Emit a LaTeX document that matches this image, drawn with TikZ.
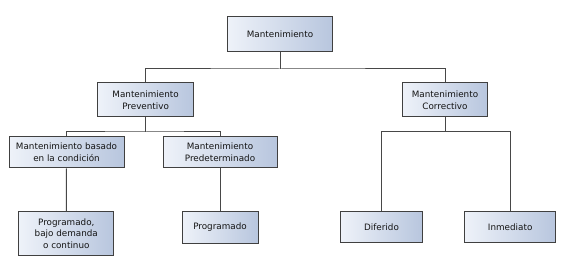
\documentclass[tikz,border=0pt]{standalone}
\usepackage{fontspec}
\setmainfont{DejaVu Sans}
\begin{document}
\begin{tikzpicture}[x=1pt,y=-1pt,
  box/.style={draw=black!75, line width=1pt, left color=boxl, right color=boxr,
    inner sep=0pt, align=center, font=\fontsize{8.8}{11.6}\selectfont, text=black!92},
  conn/.style={draw=black!72, line width=1pt}]
\definecolor{boxl}{RGB}{238,242,249}
\definecolor{boxr}{RGB}{184,198,222}
\useasboundingbox (0,0) rectangle (568,267);
\node[box, minimum width=104.5pt, minimum height=34.5pt] (top) at (280,34) {Mantenimiento};
\node[box, minimum width=95.7pt, minimum height=34pt] (prev) at (145.6,100) {Mantenimiento\\Preventivo};
\node[box, minimum width=84.5pt, minimum height=34pt] (corr) at (445,100) {Mantenimiento\\Correctivo};
\node[box, minimum width=115pt, minimum height=31pt] (bas) at (66.5,152.5) {Mantenimiento basado\\en la condición};
\node[box, minimum width=114pt, minimum height=31pt] (pred) at (220,152.5) {Mantenimiento\\Predeterminado};
\node[box, minimum width=94.7pt, minimum height=43pt] (prog1) at (66.3,233.5) {Programado,\\bajo demanda\\o continuo};
\node[box, minimum width=76pt, minimum height=31pt] (prog2) at (220,227.5) {Programado};
\node[box, minimum width=81.6pt, minimum height=31pt] (dif) at (381.5,227.2) {Diferido};
\node[box, minimum width=91pt, minimum height=31pt] (inm) at (510.2,227.2) {Inmediato};
\coordinate (j1) at (280,69);
\coordinate (j2) at (145.6,132);
\coordinate (j3) at (445,131.7);
\draw[conn] (top.south) -- (j1);
\draw[conn] (prev.north) |- (j1) -| (corr.north);
\draw[conn] (prev.south) -- (j2);
\draw[conn] (bas.north) |- (j2) -| (pred.north);
\draw[conn] (corr.south) -- (j3);
\draw[conn] (dif.north) |- (j3) -| (inm.north);
\draw[conn] (bas.south) -- (prog1.north);
\draw[conn] (pred.south) -- (prog2.north);
\end{tikzpicture}
\end{document}
